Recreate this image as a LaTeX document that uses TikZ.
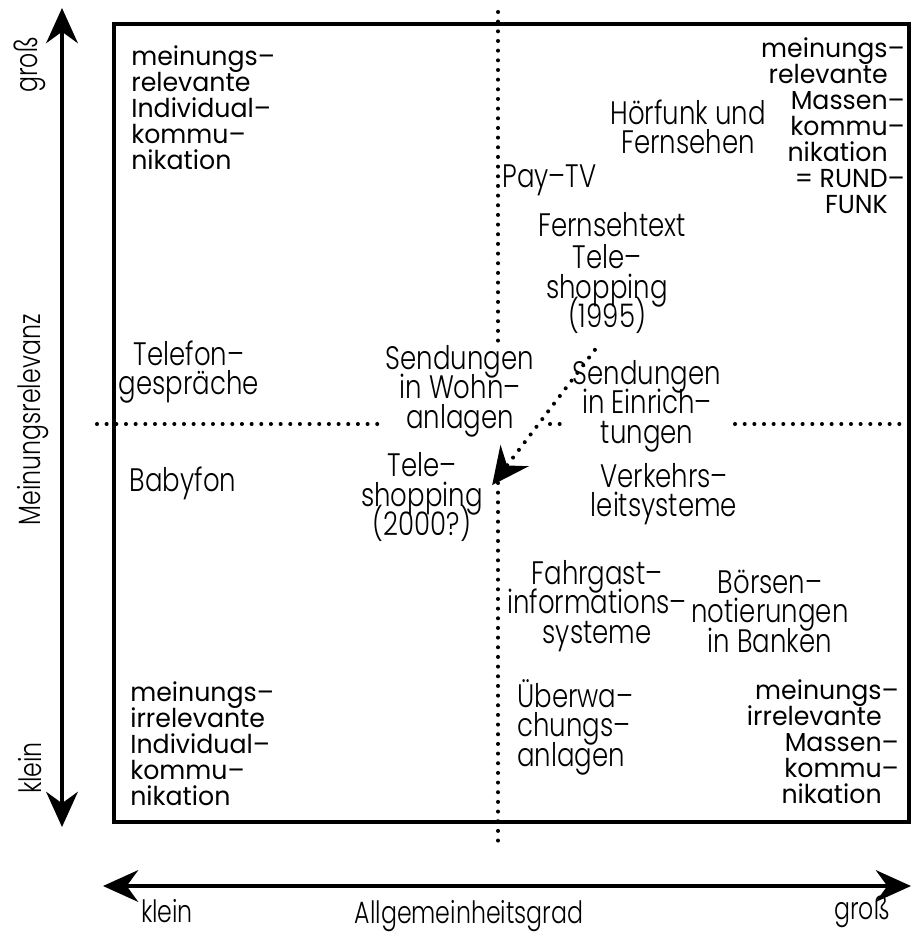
\documentclass[tikz,border=0pt]{standalone}
\usepackage{fontspec}
\setmainfont{Poppins}
\newfontfamily\lightfont{Poppins Light}[FakeStretch=0.8]
\newfontfamily\axisfamily{Poppins Light}[FakeStretch=0.77]
\newfontfamily\heavyfont{Poppins}[FakeStretch=0.97]
\usetikzlibrary{arrows.meta}

\newcommand\lblfont{\lightfont\fontsize{18.5}{16.8}\selectfont\lineskiplimit=-100pt\relax}
\newcommand\cornerfont{\heavyfont\fontsize{14.8}{14.8}\selectfont\lineskiplimit=-100pt\relax}
\newcommand\axisfont{\axisfamily\fontsize{17.5}{17.5}\selectfont}

\tikzset{
  lbl/.style={inner sep=0pt, align=center, font=\lblfont},
  corner/.style={inner sep=0pt, font=\cornerfont},
  axislbl/.style={inner sep=0pt, font=\axisfont},
  axis/.style={line width=2.3pt, {Stealth[length=20pt,width=18pt,inset=6.5pt]}-{Stealth[length=20pt,width=18pt,inset=6.5pt]}},
  frame/.style={line width=2.5pt},
  guide/.style={line width=2.3pt, line cap=round, dash pattern=on 0pt off 5.5pt},
  trend/.style={guide, -{Stealth[length=21pt,width=20pt,inset=7pt]}, shorten <=0.4cm, shorten >=0.3cm},
}

\begin{document}
\begin{tikzpicture}[x=0.02cm, y=-0.02cm]
  \useasboundingbox (0,0) rectangle (912,936);

  % frame of the portfolio
  \draw[frame] (114,24) rectangle (909,822);

  % axes
  \coordinate (ytop) at (62,8);
  \coordinate (ybot) at (62,827);
  \coordinate (xleft) at (103,886);
  \coordinate (xright) at (911,886);
  \draw[axis] (ytop) -- (ybot);
  \draw[axis] (xleft) -- (xright);

  % dotted quadrant guides
  \coordinate (v1) at (498,12);
  \coordinate (v2) at (498,343);
  \coordinate (v3) at (498,483);
  \coordinate (v4) at (498,845);
  \coordinate (h1) at (97,424);
  \coordinate (h2) at (386,424);
  \coordinate (h3) at (550,424);
  \coordinate (h4) at (569,424);
  \coordinate (h5) at (735,424);
  \coordinate (h6) at (912,424);
  \draw[guide] (v1) -- (v2);
  \draw[guide] (v3) -- (v4);
  \draw[guide] (h1) -- (h2);
  \draw[guide] (h3) -- (h4);
  \draw[guide] (h5) -- (h6);

  % corner labels
  \node[corner, anchor=west, align=left] (tl) at (131,108)
    {meinungs–\\relevante\\Individual–\\kommu–\\nikation};
  \node[corner, anchor=east, align=right] (tr) at (888,126)
    {meinungs\rlap{–}\\relevante\\Massen\rlap{–}\\kommu\rlap{–}\\nikation\\= RUND\rlap{–}\\FUNK};
  \node[corner, anchor=west, align=left] (bl) at (130,744)
    {meinungs–\\irrelevante\\Individual–\\kommu–\\nikation};
  \node[corner, anchor=east, align=right] (br) at (882,742)
    {meinungs\rlap{–}\\irrelevante\\Massen\rlap{–}\\kommu\rlap{–}\\nikation};

  % services
  \node[lbl] (rundfunk) at (688,127) {Hörfunk und\\Fernsehen};
  \node[lbl, anchor=west] (paytv) at (502,180) {Pay–TV};
  \node[lbl] (videotext) at (612,225) {Fernsehtext};
  \node[lbl] (tsa) at (607,289) {Tele–\\shopping\\(1995)};
  \node[lbl] (telefon) at (189,372) {Telefon–\\gespräche};
  \node[lbl] (baby) at (183,483) {Babyfon};
  \node[lbl] (wohn) at (460,391) {Sendungen\\in Wohn–\\anlagen};
  \node[lbl] (einr) at (647,406) {Sendungen\\in Einrich–\\tungen};
  \node[lbl] (tsb) at (422,497) {Tele–\\shopping\\(2000?)};
  \node[lbl] (verkehr) at (664,494) {Verkehrs–\\leitsysteme};
  \node[lbl] (fahrgast) at (597,606) {Fahrgast–\\informations–\\systeme};
  \node[lbl] (boerse) at (770,611) {Börsen–\\notierungen\\in Banken};
  \node[lbl, anchor=west, align=left] (ueberw) at (517,727) {Überwa–\\chungs–\\anlagen};

  % shift of tele-shopping
  \draw[trend] (tsa.south) -- (tsb.east);

  % axis labels
  \node[axislbl] (xklein) at (167,911) {klein};
  \node[axislbl] (xtitle) at (469,916) {Allgemeinheitsgrad};
  \node[axislbl] (xgross) at (862,912) {groß};
  \node[axislbl, rotate=90] (ygross) at (30,65) {groß};
  \node[axislbl, rotate=90] (ytitle) at (33,420) {Meinungsrelevanz};
  \node[axislbl, rotate=90] (yklein) at (30,768) {klein};
\end{tikzpicture}
\end{document}
